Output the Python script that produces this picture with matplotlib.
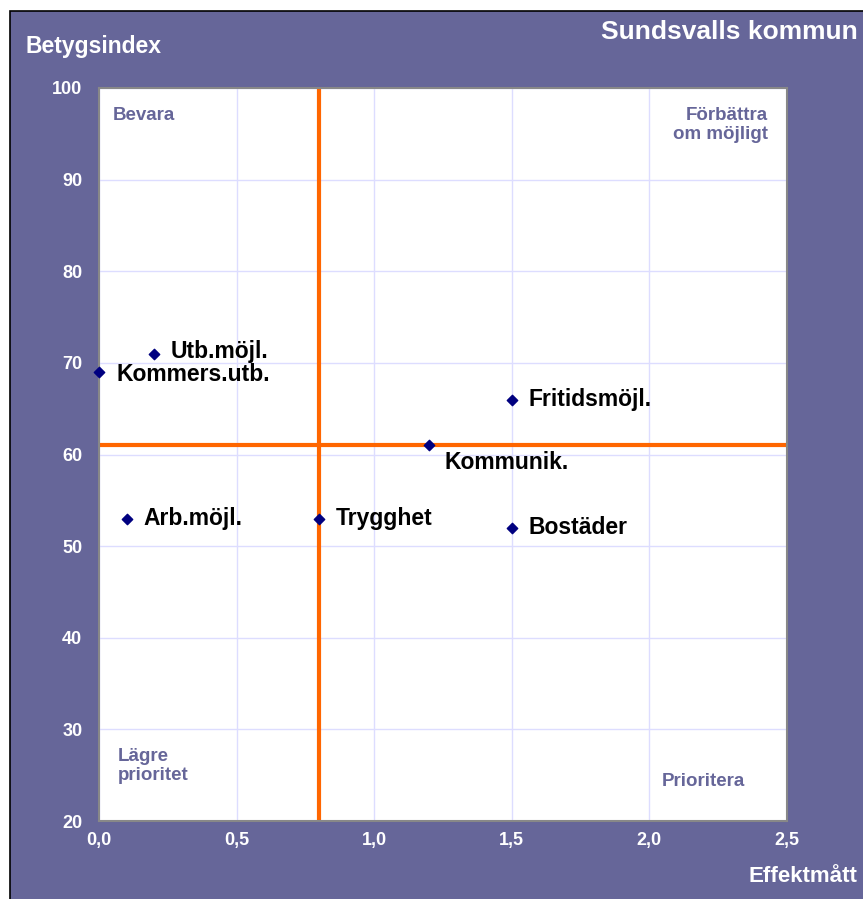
import matplotlib
matplotlib.use('Agg')
import matplotlib.pyplot as plt
from matplotlib.patches import Rectangle

# data
names = ['Utb.möjl.', 'Kommers.utb.', 'Fritidsmöjl.', 'Kommunik.',
         'Arb.möjl.', 'Trygghet', 'Bostäder']
effekt = [0.2, 0.0, 1.5, 1.2, 0.1, 0.8, 1.5]
betyg = [71, 69, 66, 61, 53, 53, 52]
x_ticks = [0.0, 0.5, 1.0, 1.5, 2.0, 2.5]
x_ticklabels = ['0,0', '0,5', '1,0', '1,5', '2,0', '2,5']
y_ticks = [20, 30, 40, 50, 60, 70, 80, 90, 100]
x_split = 0.8
y_split = 61

purple = '#666699'
plt.rcParams['font.family'] = ['Liberation Sans', 'DejaVu Sans']
plt.rcParams['font.weight'] = 'bold'

W, H = 863, 899
fig = plt.figure(figsize=(W / 100, H / 100), dpi=100)
fig.patch.set_facecolor('white')
# purple frame behind everything
fig.patches.append(Rectangle((10 / W, -0.01), 1.0, 1 - 11 / H + 0.01,
                             transform=fig.transFigure, facecolor=purple,
                             edgecolor='black', linewidth=1.2, zorder=-10))

ax = fig.add_axes([99 / W, 1 - 821 / H, (787 - 99) / W, (821 - 88) / H])
ax.set_zorder(1)
ax.set_facecolor('white')
ax.set_xlim(0, 2.5)
ax.set_ylim(20, 100)
ax.set_xticks(x_ticks)
ax.set_xticklabels(x_ticklabels)
ax.set_yticks(y_ticks)
ax.tick_params(colors='white', labelsize=13, length=0)
ax.tick_params(axis='x', pad=8)
ax.tick_params(axis='y', pad=12)
for lab in ax.get_xticklabels() + ax.get_yticklabels():
    lab.set_fontweight('bold')
ax.grid(color='#DDDDFF', linewidth=1)
ax.set_axisbelow(True)
for s in ax.spines.values():
    s.set_color('#888888')
    s.set_linewidth(1.5)

ax.axvline(x_split, color='#FF6600', linewidth=3, zorder=2)
ax.axhline(y_split, color='#FF6600', linewidth=3, zorder=2)

ax.scatter(effekt, betyg, marker='D', s=28, color='#000080', zorder=4, clip_on=False)
for n, xv, yv in zip(names, effekt, betyg):
    if n == 'Kommunik.':
        off = (15, -17)
    elif n == 'Utb.möjl.':
        off = (17, 2)
    elif n == 'Kommers.utb.':
        off = (17, -2)
    else:
        off = (17, 0)
    ax.annotate(n, (xv, yv), xytext=off, textcoords='offset pixels',
                fontsize=16.5, fontweight='bold', color='black', va='center', ha='left', zorder=5)

# quadrant labels
qkw = dict(transform=ax.transAxes, color=purple, fontsize=13.5, fontweight='bold')
ax.text(14 / 688, 1 - 28 / 733, 'Bevara', ha='left', va='center', **qkw)
ax.text(1 - 19 / 688, 1 - 19 / 733, 'Förbättra\nom möjligt', ha='right', va='top',
        linespacing=1.15, **qkw)
ax.text(19 / 688, 55 / 733, 'Lägre\nprioritet', ha='left', va='center',
        linespacing=1.15, **qkw)
ax.text(1 - 42 / 688, 40 / 733, 'Prioritera', ha='right', va='center', **qkw)

fig.text(25 / W, 1 - 47 / H, 'Betygsindex', color='white', fontsize=16.5,
         fontweight='bold', ha='left', va='center')
fig.text(858 / W, 1 - 32 / H, 'Sundsvalls kommun', color='white', fontsize=19,
         fontweight='bold', ha='right', va='center')
fig.text(857 / W, 1 - 876 / H, 'Effektmått', color='white', fontsize=16,
         fontweight='bold', ha='right', va='center')

fig.savefig('out.png', dpi=100, facecolor=fig.get_facecolor())
